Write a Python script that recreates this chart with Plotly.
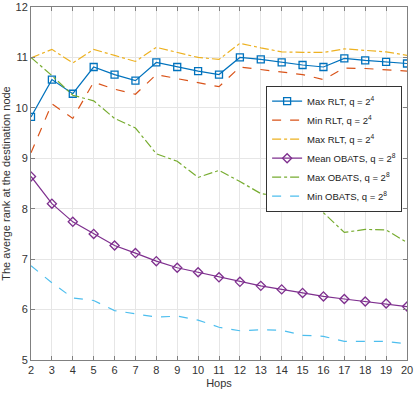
import plotly.graph_objects as go

hops = list(range(2, 21))

max_rlt_sq = [9.82, 10.56, 10.28, 10.81, 10.66, 10.54, 10.90, 10.81, 10.73, 10.66,
              11.00, 10.96, 10.90, 10.85, 10.81, 10.98, 10.94, 10.91, 10.88]
min_rlt = [9.11, 10.08, 9.79, 10.51, 10.37, 10.27, 10.66, 10.58, 10.50, 10.42,
           10.81, 10.76, 10.71, 10.66, 10.56, 10.79, 10.78, 10.75, 10.73]
max_rlt = [10.99, 11.16, 10.89, 11.16, 11.04, 10.92, 11.20, 11.10, 11.00, 10.96,
           11.28, 11.19, 11.11, 11.10, 11.10, 11.17, 11.14, 11.11, 11.04]
mean_obats = [8.64, 8.10, 7.74, 7.50, 7.27, 7.12, 6.96, 6.83, 6.74, 6.64,
              6.55, 6.47, 6.40, 6.33, 6.26, 6.21, 6.16, 6.12, 6.06]
max_obats = [11.00, 10.64, 10.25, 10.14, 9.79, 9.60, 9.09, 8.94, 8.62, 8.76,
             8.54, 8.30, 8.24, 8.38, 7.92, 7.53, 7.59, 7.58, 7.33]
min_obats = [6.87, 6.53, 6.23, 6.18, 5.98, 5.92, 5.85, 5.87, 5.79, 5.65,
             5.58, 5.60, 5.59, 5.49, 5.47, 5.37, 5.37, 5.37, 5.32]

series = [
    ("Max RLT, q = 2<sup>4</sup>", max_rlt_sq, "#0072BD", "solid", "square-open"),
    ("Min RLT, q = 2<sup>4</sup>", min_rlt, "#D95319", "dash", None),
    ("Max RLT, q = 2<sup>4</sup>", max_rlt, "#EDB120", "dashdot", None),
    ("Mean OBATS, q = 2<sup>8</sup>", mean_obats, "#7E2F8E", "solid", "diamond-open"),
    ("Max OBATS, q = 2<sup>8</sup>", max_obats, "#77AC30", "dashdot", None),
    ("Min OBATS, q = 2<sup>8</sup>", min_obats, "#4DBEEE", "dash", None),
]

fig = go.Figure()
for name, vals, color, dash, marker in series:
    fig.add_trace(go.Scatter(
        x=hops, y=vals, name=name,
        mode="lines+markers" if marker else "lines",
        line=dict(color=color, width=1.2, dash=dash),
        marker=dict(symbol=marker or "circle", size=7, color=color,
                    line=dict(color=color, width=1.3)),
    ))

axis_style = dict(
    showgrid=True, gridcolor="#e6e6e6", gridwidth=1,
    showline=True, linecolor="#808080", linewidth=1, mirror="ticks",
    ticks="inside", ticklen=4, tickcolor="#808080",
    tickfont=dict(size=11, color="#333333"),
    zeroline=False, automargin=False,
)

fig.update_layout(
    width=415, height=396,
    margin=dict(l=31, r=8, t=7, b=36),
    paper_bgcolor="white", plot_bgcolor="white",
    font=dict(family="Liberation Sans, Arial, sans-serif", color="#333333"),
    showlegend=True,
    legend=dict(
        x=0.987, y=0.777, xanchor="right", yanchor="top",
        bgcolor="white", bordercolor="#333333", borderwidth=1,
        font=dict(size=9.5, color="#222222"),
        tracegroupgap=0, itemwidth=30,
    ),
)
fig.update_xaxes(range=[2, 20], dtick=1, tick0=2,
                 title=dict(text="Hops", font=dict(size=11), standoff=4),
                 **axis_style)
fig.update_yaxes(range=[5, 12], dtick=1,
                 title=dict(text="The averge rank at the destination node",
                            font=dict(size=11), standoff=6),
                 **axis_style)

# the page body has a default 8px margin; drop it so the figure sits at 0,0
fig.write_html("out.html", config={"displayModeBar": False},
               post_script="document.body.style.margin='0';")
